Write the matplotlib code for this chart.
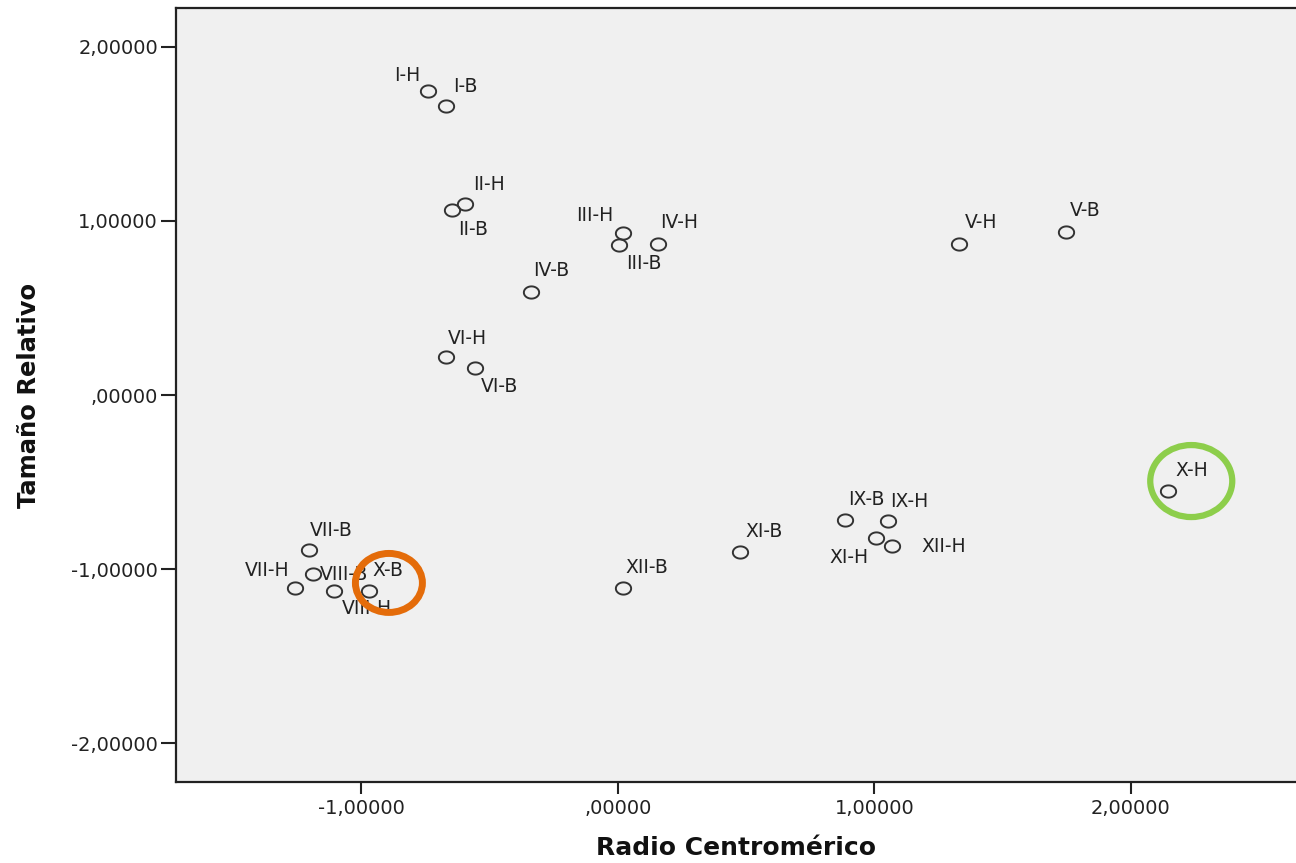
import matplotlib
matplotlib.use("Agg")
import matplotlib.pyplot as plt
from matplotlib.path import Path
from matplotlib.patches import Ellipse
import numpy as np

# Chromosome pairs: centromeric ratio (x) vs. relative size (y)
labels = ["I-H", "I-B", "II-H", "II-B", "III-H", "III-B", "IV-H", "IV-B",
          "V-H", "V-B", "VI-H", "VI-B", "VII-B", "VII-H", "VIII-B", "VIII-H",
          "X-B", "X-H", "XII-B", "XI-B", "IX-B", "IX-H", "XI-H", "XII-H"]
radio_centromerico = [-0.740, -0.669, -0.595, -0.646, 0.021, 0.005, 0.157, -0.338,
                      1.331, 1.748, -0.669, -0.556, -1.203, -1.258, -1.188, -1.106,
                      -0.970, 2.146, 0.021, 0.477, 0.886, 1.054, 1.007, 1.069]
tamano_relativo = [1.747, 1.661, 1.098, 1.063, 0.931, 0.862, 0.868, 0.592,
                   0.868, 0.937, 0.218, 0.155, -0.891, -1.109, -1.029, -1.126,
                   -1.126, -0.552, -1.109, -0.902, -0.718, -0.724, -0.822, -0.868]

x_ticks = [-1.0, 0.0, 1.0, 2.0]
x_tick_labels = ["-1,00000", ",00000", "1,00000", "2,00000"]
y_ticks = [2.0, 1.0, 0.0, -1.0, -2.0]
y_tick_labels = ["2,00000", "1,00000", ",00000", "-1,00000", "-2,00000"]

# Highlighted chromosomes
highlight = {"X-B": "#E46C0A", "X-H": "#8DCE4B"}

# Label placement (pixel offsets from the marker, horizontal alignment)
label_offsets = {
    "I-H": (-8, 16, "right"), "I-B": (7, 19, "left"),
    "II-H": (8, 19, "left"), "II-B": (6, -19, "left"),
    "III-H": (-10, 17, "right"), "III-B": (7, -18, "left"),
    "IV-H": (2, 21, "left"), "IV-B": (2, 21, "left"),
    "V-H": (6, 21, "left"), "V-B": (4, 21, "left"),
    "VI-H": (2, 19, "left"), "VI-B": (6, -18, "left"),
    "VII-B": (1, 20, "left"), "VII-H": (-6, 17, "right"),
    "VIII-B": (7, 0, "left"), "VIII-H": (8, -18, "left"),
    "X-B": (4, 20, "left"), "X-H": (7, 21, "left"),
    "XII-B": (2, 20, "left"), "XI-B": (5, 20, "left"),
    "IX-B": (3, 20, "left"), "IX-H": (2, 19, "left"),
    "XI-H": (-8, -19, "right"), "XII-H": (29, 0, "left"),
}

plt.rcParams["font.family"] = ["DejaVu Sans"]

W, H = 1296, 863
XMIN, XMAX = -1.722, 2.644
YMIN, YMAX = -2.224, 2.224

fig = plt.figure(figsize=(W / 100, H / 100), dpi=100)
ax = fig.add_axes([176 / W, 1 - 782 / H, 1 - 176 / W, (782 - 8) / H])
ax.set_facecolor("#f0f0f0")
ax.set_xlim(XMIN, XMAX)
ax.set_ylim(YMIN, YMAX)

# slightly flattened open ellipse marker
t = np.linspace(0, 2 * np.pi, 60)
ell = Path(np.column_stack([np.cos(t), 0.8 * np.sin(t)]), closed=True)

ax.plot(radio_centromerico, tamano_relativo, linestyle="none", marker=ell,
        markersize=11, markerfacecolor="none", markeredgecolor="#333333",
        markeredgewidth=1.4, zorder=3)

px = 0.72  # pixels -> points at 100 dpi
for lab, x, y in zip(labels, radio_centromerico, tamano_relativo):
    dx, dy, ha = label_offsets[lab]
    ax.annotate(lab, (x, y), xytext=(dx * px, dy * px), textcoords="offset points",
                ha=ha, va="center", fontsize=13.5, color="#222222", zorder=4)

# rings around the highlighted chromosomes (sized in pixels)
ring_geom = {"X-B": (20, 8, 67, 59, 5.0), "X-H": (23, 10, 82, 72, 4.5)}
sx = (XMAX - XMIN) / (W - 176)
sy = (YMAX - YMIN) / (782 - 8)
for lab, color in highlight.items():
    i = labels.index(lab)
    ox, oy, w, h, lw = ring_geom[lab]
    e = Ellipse((radio_centromerico[i] + ox * sx, tamano_relativo[i] + oy * sy),
                w * sx, h * sy, fill=False, edgecolor=color, linewidth=lw, zorder=5)
    ax.add_patch(e)

ax.set_xticks(x_ticks)
ax.set_xticklabels(x_tick_labels)
ax.set_yticks(y_ticks)
ax.set_yticklabels(y_tick_labels)
ax.tick_params(axis="x", direction="out", length=8.5, width=1.5, pad=4,
               labelsize=14, colors="#222222")
ax.tick_params(axis="y", direction="out", length=11, width=1.5, pad=2,
               labelsize=14, colors="#222222")

for side in ("left", "bottom", "top"):
    ax.spines[side].set_color("#222222")
    ax.spines[side].set_linewidth(1.6)
ax.spines["right"].set_visible(False)

ax.set_xlabel("Radio Centromérico", fontsize=18, fontweight="bold",
              color="#111111", labelpad=13)
ax.set_ylabel("Tamaño Relativo", fontsize=17.5, fontweight="bold",
              color="#111111", labelpad=22)

fig.savefig("out.png", dpi=100, facecolor="white")
